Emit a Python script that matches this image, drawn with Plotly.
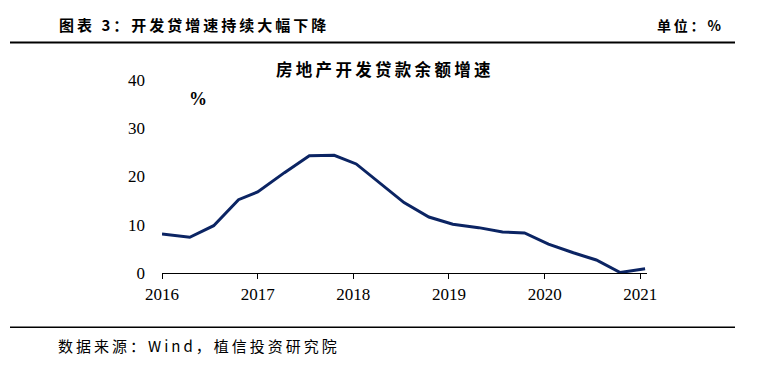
import plotly.graph_objects as go

# Data
x_years = [2016.00, 2016.29, 2016.54, 2016.80, 2017.00, 2017.28, 2017.54, 2017.80,
           2018.03, 2018.26, 2018.53, 2018.79, 2019.04, 2019.31, 2019.56, 2019.79,
           2020.04, 2020.30, 2020.54, 2020.79, 2021.05]
growth = [8.1, 7.4, 9.8, 15.2, 16.8, 20.8, 24.3, 24.4, 22.6, 19.0, 14.6, 11.6,
          10.1, 9.4, 8.5, 8.3, 6.0, 4.2, 2.7, 0.1, 0.9]
x_ticks = [2016, 2017, 2018, 2019, 2020, 2021]
x_tick_labels = ["2016", "2017", "2018", "2019", "2020", "2021"]
y_ticks = [0, 10, 20, 30, 40]

header_title = "图表 3：开发贷增速持续大幅下降"
unit_text = "单位：%"
chart_title = "房地产开发贷款余额增速"
source_text = "数据来源：Wind，植信投资研究院"

CJK = "Noto Sans CJK SC"
SERIF = "Liberation Serif"

# figure geometry (page has an 8px body margin)
W, H = 759, 358
L, R, T, B = 154, 120, 72, 93
PW, PH = W - L - R, H - T - B


def px(xp):
    return (xp - 8 - L) / PW


def py(yp):
    return (H - B - (yp - 8)) / PH


def spaced(s, sep="\u2009"):
    return sep.join(list(s))


fig = go.Figure()
fig.add_trace(go.Scatter(
    x=x_years, y=growth, mode="lines",
    line=dict(color="#0b2463", width=3),
    hoverinfo="skip", showlegend=False,
))

fig.update_layout(
    width=W, height=H,
    margin=dict(l=L, r=R, t=T, b=B, pad=0),
    paper_bgcolor="white", plot_bgcolor="white",
    xaxis=dict(
        range=[2016, 2021.07], tickvals=x_ticks, ticktext=x_tick_labels,
        showgrid=False, zeroline=False, showline=True, linecolor="black", linewidth=1,
        ticks="outside", ticklen=5, tickcolor="black", tickwidth=1,
        ticklabelstandoff=1,
        tickfont=dict(family=SERIF, size=17, color="black"),
    ),
    yaxis=dict(
        range=[0, 40], tickvals=y_ticks,
        showgrid=False, zeroline=False, showline=False, ticks="",
        ticklabelstandoff=16,
        tickfont=dict(family=SERIF, size=17, color="black"),
    ),
    annotations=[
        dict(text="<b>" + spaced(header_title) + "</b>", xref="paper", yref="paper",
             x=px(57), y=py(24.5), xanchor="left", yanchor="middle",
             showarrow=False, font=dict(family=CJK, size=15, color="black")),
        dict(text="<b>" + spaced(unit_text) + "</b>", xref="paper", yref="paper",
             x=px(723), y=py(24.5), xanchor="right", yanchor="middle",
             showarrow=False, font=dict(family=CJK, size=14, color="black")),
        dict(text="<b>" + spaced(chart_title) + "</b>", xref="paper", yref="paper",
             x=px(383), y=py(68.5), xanchor="center", yanchor="middle",
             showarrow=False, font=dict(family=CJK, size=16.5, color="black")),
        dict(text="<b>%</b>", xref="paper", yref="paper",
             x=px(197.5), y=py(98.5), xanchor="center", yanchor="middle",
             showarrow=False, font=dict(family=SERIF, size=18, color="black")),
        dict(text=spaced(source_text), xref="paper", yref="paper",
             x=px(56), y=py(345), xanchor="left", yanchor="middle",
             showarrow=False, font=dict(family=CJK, size=15, color="black")),
    ],
    shapes=[
        dict(type="line", xref="paper", yref="paper",
             x0=px(10), x1=px(735), y0=py(42.5), y1=py(42.5),
             line=dict(color="black", width=2)),
        dict(type="line", xref="paper", yref="paper",
             x0=px(10), x1=px(735), y0=py(327.3), y1=py(327.3),
             line=dict(color="black", width=1.5)),
    ],
)

fig.write_html("out.html")
